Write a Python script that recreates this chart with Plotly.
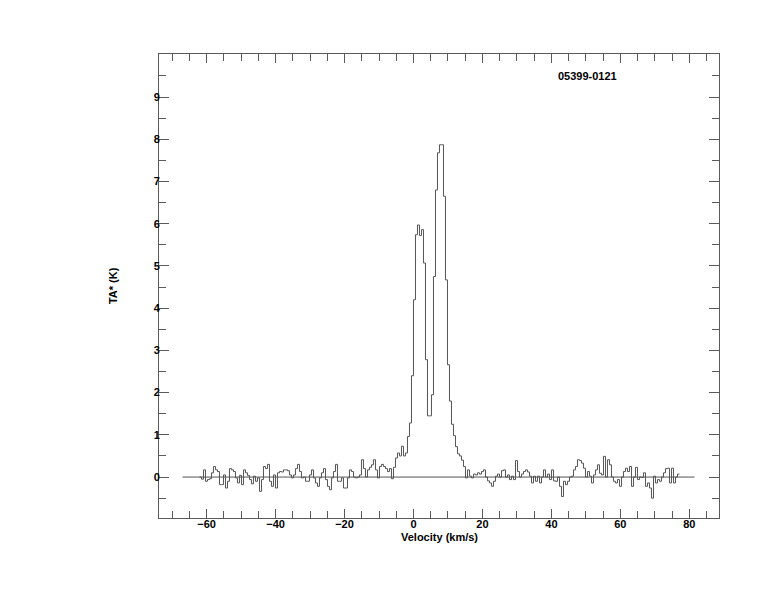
import plotly.graph_objects as go

# ---------------- data ----------------
channel_width = 0.58          # km/s
first_channel_edge = -62.06   # km/s, left edge of the first channel

# blue-side baseline noise, -62 .. -30 km/s
noise_blue_a = [
    0.0, -0.05, 0.17, -0.1, -0.06, -0.04, 0.1, 0.25, 0.17, 0.13,
    -0.18, -0.18, 0.05, -0.26, -0.1, 0.2, 0.17, 0.13, -0.02, -0.14,
    0.04, -0.18, 0.17, 0.1, 0.04, -0.06, -0.16, 0.02, -0.1, -0.02,
    -0.34, -0.06, 0.25, 0.2, 0.3, -0.1, -0.22, 0.05, -0.26, 0.1,
    0.13, 0.12, 0.17, 0.17, 0.15, 0.05, -0.02, 0.05, 0.2, 0.3,
    0.13, -0.02, 0.0, -0.1, -0.1,
]
# blue-side noise, -30 .. -5 km/s
noise_blue_b = [
    0.05, 0.17, -0.02, -0.14, -0.22, -0.02, 0.1, 0.2, -0.06, -0.22,
    -0.3, -0.02, 0.13, 0.3, -0.1, -0.1, -0.02, -0.26, -0.26, -0.02,
    0.17, 0.13, 0.0, -0.02, 0.0, 0.05, 0.41, 0.2, 0.0, 0.17,
    0.23, 0.29, 0.41, 0.17, -0.02, 0.25, 0.3, 0.25, 0.2, 0.13,
    0.2, -0.04, 0.23,
]
# blue wing, -5.2 .. -2.3 km/s
wing_blue = [0.45, 0.57, 0.5, 0.73, 0.5]
# line profile, -2.3 .. 15.1 km/s
line_profile = [
    0.57, 0.96, 1.28, 2.4, 4.2, 5.74, 5.97, 5.72, 5.86, 5.07,
    2.78, 1.45, 1.45, 1.95, 4.75, 6.8, 7.68, 7.87, 7.87, 6.65,
    4.67, 2.66, 1.8, 1.25, 0.98, 0.72, 0.55, 0.5, 0.4, 0.25,
]
# red-side noise, 15.1 .. 77 km/s
noise_red = [
    -0.02, 0.17, 0.02, -0.02, 0.07, 0.05, 0.1, 0.07, 0.13, 0.17,
    0.0, -0.09, -0.14, -0.22, -0.1, 0.02, 0.07, 0.0, 0.15, 0.17,
    0.0, 0.05, -0.06, 0.02, -0.06, 0.39, 0.13, 0.0, 0.07, 0.13,
    0.17, 0.12, 0.02, -0.14, 0.02, -0.1, 0.02, -0.14, 0.0, 0.17,
    0.0, 0.07, -0.06, 0.17, -0.09, -0.1, 0.0, -0.22, -0.46, -0.1,
    -0.18, -0.1, 0.0, 0.02, 0.17, 0.25, 0.41, 0.39, 0.33, 0.21,
    0.0, 0.13, 0.02, -0.14, 0.05, 0.17, 0.29, 0.09, 0.05, 0.49,
    0.0, 0.41, 0.29, 0.0, -0.1, -0.14, -0.06, -0.22, 0.0, 0.13,
    0.21, 0.13, 0.25, -0.22, 0.0, 0.23, -0.06, 0.0, -0.01, 0.1,
    -0.22, -0.14, -0.26, -0.5, 0.02, -0.14, -0.06, -0.1, 0.0, 0.1,
    0.2, 0.21, -0.14, 0.21, -0.14, 0.0, 0.07,
]

baseline_velocity = [-67.0, 81.5]
baseline_level = [0.0, 0.0]

source_name = "05399-0121"
x_title = "Velocity (km/s)"
y_title = "TA* (K)"
x_tick_values = [-60, -40, -20, 0, 20, 40, 60, 80]
y_tick_values = [0, 1, 2, 3, 4, 5, 6, 7, 8, 9]

# ---------------- build the step spectrum ----------------
values = noise_blue_a + noise_blue_b + wing_blue + line_profile + noise_red
edges = [first_channel_edge + channel_width * k for k in range(len(values) + 1)]
step_x = edges
step_y = values + [values[-1]]

frame_color = "#5a5a5a"
line_color = "#555555"
font_family = "Liberation Sans, Arial, Helvetica, sans-serif"

fig = go.Figure()
fig.add_trace(go.Scatter(x=baseline_velocity, y=baseline_level, mode="lines",
                         line=dict(color=line_color, width=1), hoverinfo="skip",
                         showlegend=False))
fig.add_trace(go.Scatter(x=step_x, y=step_y, mode="lines", line_shape="hv",
                         line=dict(color=line_color, width=1), showlegend=False))

fig.update_layout(
    width=766, height=604,
    margin=dict(l=151, r=55, t=46, b=94),
    paper_bgcolor="white", plot_bgcolor="white",
    font=dict(family=font_family, size=11, color="black"),
    showlegend=False,
)
fig.update_xaxes(
    range=[-73.8, 88.6], showgrid=False, zeroline=False,
    showline=True, linecolor=frame_color, linewidth=1, mirror="ticks",
    ticks="inside", ticklen=9, tickwidth=1, tickcolor=frame_color,
    tickvals=x_tick_values, ticklabelstandoff=-4,
    tickfont=dict(family=font_family, size=11, color="black", weight="bold"),
    minor=dict(dtick=5, tick0=0, ticks="inside", ticklen=7, tickcolor=frame_color, showgrid=False),
)
fig.update_yaxes(
    range=[-0.97, 10.02], showgrid=False, zeroline=False,
    showline=True, linecolor=frame_color, linewidth=1, mirror="ticks",
    ticks="inside", ticklen=10, tickwidth=1, tickcolor=frame_color,
    tickvals=y_tick_values, ticklabelstandoff=-4,
    tickfont=dict(family=font_family, size=11, color="black", weight="bold"),
    minor=dict(dtick=0.5, tick0=0, ticks="inside", ticklen=7, tickcolor=frame_color, showgrid=False),
)

fig.add_annotation(text=f"<b>{x_title}</b>", xref="paper", yref="paper",
                   x=0.5, y=-0.024, xanchor="center", yanchor="top", showarrow=False,
                   font=dict(family=font_family, size=11, color="black"))
fig.add_annotation(text=f"<b>{y_title}</b>", xref="paper", yref="paper",
                   x=-0.082, y=0.5, xanchor="center", yanchor="middle", textangle=-90,
                   showarrow=False, font=dict(family=font_family, size=11, color="black"))
fig.add_annotation(text=f"<b>{source_name}</b>", xref="paper", yref="paper",
                   x=0.765, y=0.953, xanchor="center", yanchor="middle", showarrow=False,
                   font=dict(family=font_family, size=11, color="black"))

fig.write_html("out.html")
